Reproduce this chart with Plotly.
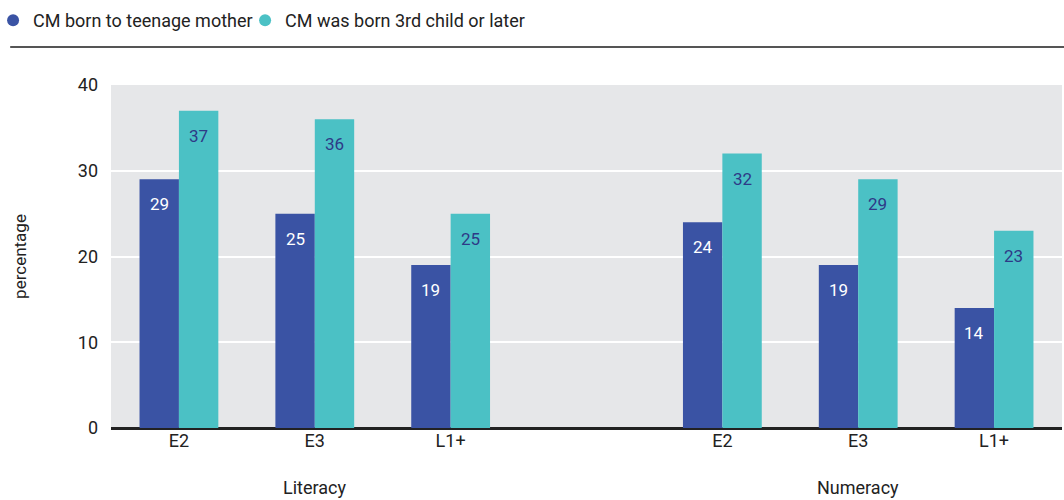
import plotly.graph_objects as go

groups = ["Literacy", "Numeracy"]
tick_labels = ["E2", "E3", "L1+", "", "E2", "E3", "L1+"]
positions = [0, 1, 2, 4, 5, 6]
series_names = ["CM born to teenage mother", "CM was born 3rd child or later"]
teenage = [29, 25, 19, 24, 19, 14]
third_child = [37, 36, 25, 32, 29, 23]

colors = ["#3A53A4", "#4BC1C5"]
text_colors = ["#FFFFFF", "#2E3A87"]
FONT = "Roboto"
bargap = 0.42

fig = go.Figure()
for k, (name, vals, col) in enumerate(zip(series_names, [teenage, third_child], colors)):
    fig.add_trace(go.Bar(x=positions, y=vals, name=name, marker_color=col,
                         marker_line_width=0, showlegend=False, hoverinfo="y"))
    fig.add_trace(go.Scatter(x=[None], y=[None], mode="markers", name=name,
                             marker=dict(symbol="circle", size=14, color=col),
                             showlegend=True, legend="legend" if k == 0 else "legend2"))

# value labels inside bars near top
half = (1 - bargap) / 4
for i, (vals, tc) in enumerate(zip([teenage, third_child], text_colors)):
    off = -half if i == 0 else half
    for p, v in zip(positions, vals):
        fig.add_annotation(x=p + off, y=v, text=str(v), showarrow=False,
                           yanchor="top", yshift=-13,
                           font=dict(family=FONT, size=17, color=tc))

# group labels
for g, p in zip(groups, [1, 5]):
    fig.add_annotation(x=p, y=0, yref="paper", text=g, showarrow=False,
                       yanchor="top", yshift=-47,
                       font=dict(family=FONT, size=18, color="#222222"))

# line under legend
fig.add_shape(type="line", xref="paper", yref="paper", x0=-0.106, x1=1.003,
              y0=1.111, y1=1.111, line=dict(color="#555555", width=2))

legend_style = dict(orientation="h", y=1.242, xanchor="left", yanchor="top",
                    font=dict(family=FONT, size=18, color="#222222"),
                    itemsizing="constant", bgcolor="rgba(0,0,0,0)")

fig.update_layout(
    width=1064, height=500,
    margin=dict(l=111, r=2, t=85, b=72, autoexpand=False),
    paper_bgcolor="white", plot_bgcolor="#E6E7E9",
    barmode="group", bargap=bargap, bargroupgap=0,
    font=dict(family=FONT, size=18, color="#222222"),
    legend=dict(x=-0.124, **legend_style),
    legend2=dict(x=0.141, **legend_style),
    xaxis=dict(range=[-0.5, 6.5], tickmode="array", tickvals=list(range(7)),
               ticktext=tick_labels, showgrid=False, zeroline=False,
               showline=False, ticks="", tickfont=dict(size=18), automargin=False),
    yaxis=dict(range=[0, 40], dtick=10, showgrid=True, gridcolor="white",
               gridwidth=2, zeroline=True, zerolinecolor="#222222",
               zerolinewidth=3, ticks="", ticklabelstandoff=12,
               tickfont=dict(size=18), automargin=False,
               title=dict(text="percentage", font=dict(size=17), standoff=46)),
)

fig.write_html("out.html", config={"displayModeBar": False},
               post_script="document.body.style.margin='0';document.body.style.overflow='hidden';")
